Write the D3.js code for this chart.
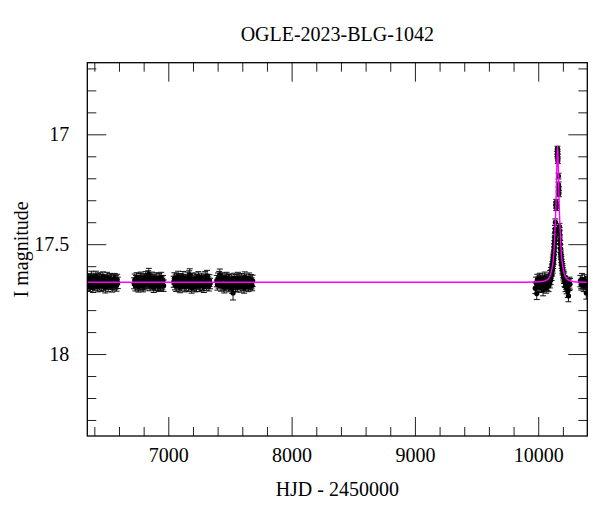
<!DOCTYPE html>
<html>
<head>
<meta charset="utf-8">
<script src="https://cdn.jsdelivr.net/npm/d3@7"></script>
<style>
  body { margin: 0; background: #fff; }
  text { font-family: "Liberation Serif", serif; fill: #000; }
</style>
</head>
<body>
<div id="chart"></div>
<script>
// light curve: [HJD-2450000, I mag, error]
const season2013 = [
  [6344,17.668,.024],[6349,17.684,.026],[6353,17.659,.025],[6358,17.676,.027],[6362,17.690,.025],
  [6367,17.662,.024],[6371,17.673,.026],[6376,17.651,.028],[6381,17.681,.025],[6385,17.667,.024],
  [6390,17.694,.026],[6395,17.657,.025],[6399,17.676,.027],[6404,17.686,.024],[6409,17.664,.026],
  [6413,17.648,.025],[6418,17.679,.024],[6423,17.670,.026],[6428,17.692,.025],[6432,17.660,.027],
  [6437,17.675,.024],[6442,17.683,.026],[6446,17.655,.025],[6451,17.669,.024],[6456,17.688,.027],
  [6460,17.663,.025],[6465,17.677,.026],[6470,17.650,.024],[6474,17.685,.025],[6479,17.672,.027],
  [6484,17.661,.024],[6489,17.696,.026],[6493,17.667,.025],[6498,17.680,.024],[6503,17.654,.026],
  [6507,17.674,.025],[6512,17.689,.027],[6517,17.665,.024],[6521,17.678,.026],[6526,17.658,.025],
  [6531,17.683,.024],[6536,17.670,.026],[6540,17.662,.025],[6545,17.691,.027],[6550,17.675,.024],
  [6555,17.666,.026],[6560,17.684,.025],[6565,17.657,.024],[6570,17.679,.026],[6575,17.668,.025],
  [6580,17.687,.027],[6585,17.661,.024],[6590,17.676,.026]
];
const season2014 = [
  [6723,17.678,.025],[6728,17.662,.026],[6733,17.689,.024],[6738,17.670,.027],[6743,17.655,.025],
  [6748,17.682,.026],[6752,17.667,.024],[6757,17.693,.025],[6762,17.660,.027],[6767,17.676,.024],
  [6772,17.686,.026],[6777,17.652,.025],[6782,17.671,.024],[6787,17.680,.026],[6792,17.664,.025],
  [6797,17.690,.027],[6802,17.658,.024],[6807,17.675,.026],[6812,17.684,.025],[6817,17.649,.024],
  [6822,17.669,.026],[6827,17.678,.025],[6832,17.661,.027],[6837,17.645,.024],[6842,17.636,.026],
  [6847,17.672,.025],[6852,17.688,.024],[6857,17.663,.026],[6862,17.677,.025],[6867,17.654,.027],
  [6872,17.681,.024],[6877,17.668,.026],[6882,17.695,.025],[6887,17.660,.024],[6892,17.674,.026],
  [6897,17.686,.025],[6902,17.657,.027],[6907,17.670,.024],[6912,17.682,.026],[6917,17.665,.025],
  [6922,17.691,.024],[6927,17.659,.026],[6932,17.676,.025],[6937,17.684,.027],[6942,17.652,.024],
  [6947,17.671,.026],[6952,17.680,.025],[6957,17.666,.024],[6962,17.689,.026]
];
const season2015 = [
  [7044,17.671,.025],[7049,17.656,.026],[7054,17.684,.024],[7059,17.667,.027],[7064,17.690,.025],
  [7069,17.660,.026],[7074,17.676,.024],[7079,17.648,.025],[7084,17.682,.027],[7089,17.669,.024],
  [7094,17.695,.026],[7099,17.658,.025],[7104,17.677,.024],[7109,17.687,.026],[7114,17.663,.025],
  [7119,17.651,.027],[7124,17.680,.024],[7129,17.672,.026],[7134,17.692,.025],[7139,17.661,.024],
  [7144,17.675,.026],[7149,17.685,.025],[7154,17.654,.027],[7159,17.668,.024],[7164,17.689,.026],
  [7169,17.646,.025],[7174,17.640,.028],[7179,17.664,.024],[7184,17.678,.026],[7189,17.698,.025],
  [7194,17.659,.027],[7199,17.673,.024],[7204,17.684,.026],[7209,17.666,.025],[7214,17.693,.024],
  [7219,17.657,.026],[7224,17.676,.025],[7229,17.688,.027],[7234,17.662,.024],[7239,17.679,.026],
  [7244,17.650,.025],[7249,17.674,.024],[7254,17.690,.026],[7259,17.667,.025],[7264,17.681,.027],
  [7269,17.656,.024],[7274,17.672,.026],[7279,17.686,.025],[7284,17.663,.024],[7289,17.694,.026],
  [7294,17.669,.025],[7299,17.652,.027],[7304,17.677,.024],[7309,17.684,.026],[7314,17.644,.025],
  [7319,17.661,.024],[7324,17.675,.026],[7329,17.688,.025],[7334,17.666,.027],[7339,17.679,.024]
];
const season2016 = [
  [7393,17.668,.026],[7398,17.684,.025],[7403,17.658,.027],[7408,17.676,.024],[7413,17.650,.026],
  [7418,17.641,.028],[7423,17.662,.025],[7428,17.690,.024],[7433,17.671,.026],[7438,17.655,.025],
  [7443,17.682,.027],[7448,17.666,.024],[7453,17.696,.026],[7458,17.660,.025],[7463,17.677,.024],
  [7468,17.687,.026],[7473,17.653,.025],[7478,17.673,.027],[7483,17.683,.024],[7488,17.664,.026],
  [7493,17.692,.025],[7498,17.659,.024],[7503,17.675,.026],[7508,17.686,.025],[7513,17.667,.027],
  [7518,17.700,.024],[7525,17.722,.032],[7530,17.680,.026],[7535,17.657,.025],[7540,17.671,.024],
  [7545,17.689,.026],[7550,17.663,.025],[7555,17.678,.027],[7560,17.694,.024],[7565,17.654,.026],
  [7570,17.670,.025],[7575,17.684,.024],[7580,17.661,.026],[7585,17.676,.025],[7590,17.691,.027],
  [7595,17.658,.024],[7600,17.672,.026],[7605,17.685,.025],[7610,17.665,.024],[7615,17.697,.026],
  [7620,17.651,.025],[7625,17.674,.027],[7630,17.688,.024],[7635,17.662,.026],[7640,17.679,.025],
  [7645,17.669,.024],[7650,17.690,.026],[7655,17.656,.025],[7660,17.676,.027],[7665,17.683,.024],
  [7670,17.664,.026],[7675,17.678,.025],[7680,17.688,.024],[7684,17.667,.026]
];
const season2023 = [
  [9976,17.700,.025],[9982,17.676,.026],[9988,17.725,.027],[9993,17.662,.025],[9998,17.688,.026],
  [10003,17.670,.024],[10008,17.694,.026],[10013,17.657,.025],[10018,17.680,.027],[10023,17.667,.024],
  [10028,17.692,.026],[10033,17.660,.025],[10039,17.708,.027],[10044,17.674,.024],[10049,17.686,.026],
  [10054,17.652,.025],[10059,17.678,.024],[10064,17.697,.026],[10069,17.664,.025],[10074,17.683,.027],
  [10079,17.660,.024],[10084,17.690,.026],[10089,17.665,.025],[10094,17.675,.024],[10097,17.645,.025],
  [10101,17.658,.026],[10104,17.630,.024],[10108,17.640,.025],[10110,17.615,.024],[10113,17.622,.023],
  [10115,17.600,.022],[10117,17.610,.022],[10119,17.580,.021],[10121,17.590,.021],[10122,17.565,.020],
  [10124,17.572,.020],[10125,17.555,.019],[10127,17.545,.019],[10128,17.530,.018],[10130,17.515,.018],
  [10131,17.500,.017],[10133,17.485,.017],[10134,17.470,.017],[10136,17.445,.016],[10137,17.430,.016],
  [10139,17.400,.015],[10144,17.322,.014],[10145,17.310,.014],[10146,17.333,.014],
  [10155,17.090,.012],[10156,17.065,.011],[10157,17.080,.012],[10158,17.100,.012],[10159,17.120,.012],
  [10164,17.190,.013],[10165,17.230,.013],[10166,17.250,.013],[10167,17.270,.014],
  [10172,17.420,.015],[10173,17.440,.016],[10174,17.455,.016],[10176,17.480,.017],[10178,17.500,.017],
  [10180,17.520,.018],[10182,17.540,.018],[10184,17.550,.019],[10186,17.565,.019],[10188,17.575,.020],
  [10191,17.590,.021],[10193,17.600,.021],[10196,17.610,.022],[10198,17.618,.022],[10201,17.630,.023],
  [10204,17.640,.023],[10207,17.648,.024],[10210,17.655,.024],[10214,17.668,.025],[10218,17.672,.025],
  [10222,17.690,.026],[10226,17.680,.025],[10230,17.700,.026],[10235,17.688,.025],[10240,17.715,.027],
  [10245,17.735,.027],[10249,17.685,.026],[10253,17.675,.025],[10257,17.682,.026],
  [10341,17.668,.026],[10348,17.684,.025],[10355,17.660,.027],[10362,17.676,.024],[10369,17.690,.026],
  [10376,17.664,.025],[10383,17.680,.027],[10390,17.722,.028],[10396,17.672,.025]
];

// fitted model
const modelT   = [6343, 9900, 10020, 10079, 10099, 10115, 10124, 10131, 10139, 10144, 10149, 10153,
                  10155, 10157, 10159, 10161, 10165, 10170, 10175, 10183, 10190, 10199, 10215, 10235,
                  10290, 10398];
const modelMag = [17.673, 17.673, 17.671, 17.660, 17.640, 17.600, 17.560, 17.500, 17.400, 17.320, 17.200, 17.100,
                  17.070, 17.055, 17.070, 17.100, 17.200, 17.320, 17.400, 17.500, 17.560, 17.600, 17.640, 17.660,
                  17.671, 17.673];

const xMajor = [7000, 8000, 9000, 10000];
const yMajor = [17, 17.5, 18];
const yLabels = ['17', '17.5', '18'];

const W = 600, H = 512;
const plotLeft = 87.3, plotRight = 587.3, plotTop = 62.7, plotBottom = 436;

const svg = d3.select('#chart').append('svg')
    .attr('width', W)
    .attr('height', H);

const x = d3.scaleLinear().domain([6343, 10398]).range([plotLeft, plotRight]);
const y = d3.scaleLinear().domain([16.674, 18.373]).range([plotTop, plotBottom]);

const xMinor = d3.range(6400, 10400, 200).filter(v => !xMajor.includes(v));
const yMinor = d3.range(16.7, 18.35, 0.1).map(v => +v.toFixed(1)).filter(v => !yMajor.includes(v));

function ticks(axis, g) {
    g.call(axis);
    g.select('.domain').remove();
    g.selectAll('.tick line').attr('stroke', '#222').attr('stroke-width', 1);
    g.selectAll('text').style('font-size', '20px').style('font-family', '"Liberation Serif", serif');
}

// bottom / top
ticks(d3.axisBottom(x).tickValues(xMajor).tickSize(-19).tickPadding(12).tickFormat(d3.format('d')),
    svg.append('g').attr('transform', `translate(0,${plotBottom})`));
ticks(d3.axisBottom(x).tickValues(xMinor).tickSize(-9).tickFormat(''),
    svg.append('g').attr('transform', `translate(0,${plotBottom})`));
ticks(d3.axisTop(x).tickValues(xMajor).tickSize(-19).tickFormat(''),
    svg.append('g').attr('transform', `translate(0,${plotTop})`));
ticks(d3.axisTop(x).tickValues(xMinor).tickSize(-9).tickFormat(''),
    svg.append('g').attr('transform', `translate(0,${plotTop})`));

// left / right
ticks(d3.axisLeft(y).tickValues(yMajor).tickSize(-19).tickPadding(18).tickFormat((d, i) => yLabels[i]),
    svg.append('g').attr('transform', `translate(${plotLeft},0)`));
ticks(d3.axisLeft(y).tickValues(yMinor).tickSize(-9).tickFormat(''),
    svg.append('g').attr('transform', `translate(${plotLeft},0)`));
ticks(d3.axisRight(y).tickValues(yMajor).tickSize(-19).tickFormat(''),
    svg.append('g').attr('transform', `translate(${plotRight},0)`));
ticks(d3.axisRight(y).tickValues(yMinor).tickSize(-9).tickFormat(''),
    svg.append('g').attr('transform', `translate(${plotRight},0)`));

svg.append('defs').append('clipPath').attr('id', 'plot-clip')
    .append('rect')
    .attr('x', plotLeft).attr('y', plotTop)
    .attr('width', plotRight - plotLeft).attr('height', plotBottom - plotTop);

const plot = svg.append('g').attr('clip-path', 'url(#plot-clip)');

const points = [].concat(season2013, season2014, season2015, season2016, season2023);

const bars = plot.append('g').attr('stroke', '#111').attr('stroke-width', 1);
points.forEach(([t, m, e]) => {
    const cx = x(t);
    bars.append('line').attr('x1', cx).attr('x2', cx).attr('y1', y(m - e)).attr('y2', y(m + e));
    bars.append('line').attr('x1', cx - 3).attr('x2', cx + 3).attr('y1', y(m - e)).attr('y2', y(m - e));
    bars.append('line').attr('x1', cx - 3).attr('x2', cx + 3).attr('y1', y(m + e)).attr('y2', y(m + e));
});

plot.append('g').selectAll('circle')
    .data(points)
    .join('circle')
    .attr('cx', d => x(d[0]))
    .attr('cy', d => y(d[1]))
    .attr('r', 2.6)
    .attr('fill', '#000');

const line = d3.line()
    .x(d => x(d[0]))
    .y(d => y(d[1]))
    .curve(d3.curveMonotoneX);

plot.append('path')
    .datum(d3.zip(modelT, modelMag))
    .attr('d', line)
    .attr('fill', 'none')
    .attr('stroke', '#ff00ff')
    .attr('stroke-width', 1.4);

svg.append('rect')
    .attr('x', plotLeft).attr('y', plotTop)
    .attr('width', plotRight - plotLeft).attr('height', plotBottom - plotTop)
    .attr('fill', 'none')
    .attr('stroke', '#000')
    .attr('stroke-width', 1.3);

svg.append('text')
    .attr('x', (plotLeft + plotRight) / 2).attr('y', 41)
    .attr('text-anchor', 'middle')
    .style('font-size', '20px')
    .text('OGLE-2023-BLG-1042');

svg.append('text')
    .attr('x', (plotLeft + plotRight) / 2).attr('y', 496)
    .attr('text-anchor', 'middle')
    .style('font-size', '20px')
    .text('HJD - 2450000');

svg.append('text')
    .attr('transform', `translate(28,${(plotTop + plotBottom) / 2}) rotate(-90)`)
    .attr('text-anchor', 'middle')
    .style('font-size', '20px')
    .text('I magnitude');
</script>
</body>
</html>
